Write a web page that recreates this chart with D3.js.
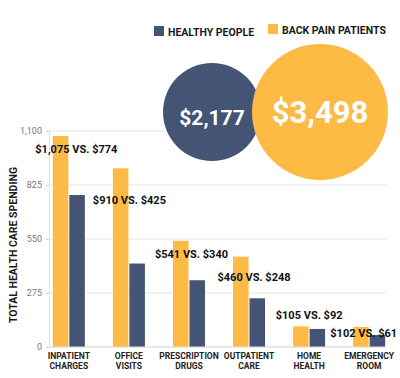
<!DOCTYPE html>
<html><head><meta charset="utf-8">
<script src="https://cdn.jsdelivr.net/npm/d3@7"></script>
<style>body{margin:0;background:#fff;font-family:Roboto,"Noto Sans",sans-serif;}</style>
</head><body><svg id="c" width="400" height="378"></svg>
<script>
const categories = [["INPATIENT","CHARGES"],["OFFICE","VISITS"],["PRESCRIPTION","DRUGS"],["OUTPATIENT","CARE"],["HOME","HEALTH"],["EMERGENCY","ROOM"]];
const backPain = [1075, 910, 541, 460, 105, 102];
const healthy = [774, 425, 340, 248, 92, 61];
const yTicks = [0, 275, 550, 825, 1100];
const totals = [2177, 3498];
const seriesNames = ["HEALTHY PEOPLE", "BACK PAIN PATIENTS"];
// label offsets (layout)
const labelDx = [7.5, 0.5, 2.5, 5, 0, -5.5];
const labelDy = [13, 32, 13, 20, -11, 6];

const NAVY = "#435474", YEL = "#FDBA45";
const svg = d3.select("#c");
const x = d3.scaleBand().domain(d3.range(categories.length)).range([39, 399]).paddingInner(0.467).paddingOuter(0.23);
const y = d3.scaleLinear().domain([0,1100]).range([347,131]);
const sub = d3.scaleBand().domain([0,1]).range([0, x.bandwidth()]).paddingInner(0.06);

// grid
svg.append("g").selectAll("line").data(yTicks).join("line")
  .attr("x1", 49).attr("x2", 386).attr("y1", d=>y(d)).attr("y2", d=>y(d))
  .attr("stroke", "#e3e3e3").attr("stroke-width", 1);
const ax = svg.append("g").attr("transform","translate(49,0)").call(d3.axisLeft(y).tickValues(yTicks).tickSize(3).tickFormat(d3.format(",")));
ax.select(".domain").attr("stroke","#e3e3e3");
ax.selectAll(".tick line").attr("stroke","#cfcfcf");
ax.selectAll("text").attr("fill","#777").attr("font-size","9px").attr("font-family","Roboto").attr("dx","-1");

// y title
svg.append("text").attr("transform","translate(17,245) rotate(-90)").attr("text-anchor","middle")
  .attr("font-size","10.5px").attr("font-weight","bold").attr("fill","#1a1a1a").text("TOTAL HEALTH CARE SPENDING");

// bars
const g = svg.append("g").selectAll("g").data(categories).join("g").attr("transform",(d,i)=>`translate(${x(i)},0)`);
g.append("rect").attr("x", sub(0)).attr("width", sub.bandwidth()).attr("y",(d,i)=>y(backPain[i])).attr("height",(d,i)=>y(0)-y(backPain[i])).attr("fill",YEL);
g.append("rect").attr("x", sub(1)).attr("width", sub.bandwidth()).attr("y",(d,i)=>y(healthy[i])).attr("height",(d,i)=>y(0)-y(healthy[i])).attr("fill",NAVY);
// baseline
svg.append("line").attr("x1",49).attr("x2",386).attr("y1",y(0)).attr("y2",y(0)).attr("stroke","#e0e0e0");

// category labels
g.append("text").attr("x", x.bandwidth()/2).attr("y",359).attr("text-anchor","middle").attr("font-size","8.5px").attr("font-weight","bold").attr("fill","#222").text(d=>d[0]);
g.append("text").attr("x", x.bandwidth()/2).attr("y",369).attr("text-anchor","middle").attr("font-size","8.5px").attr("font-weight","bold").attr("fill","#222").text(d=>d[1]);

// value labels
const fmt = d3.format("$,");
g.append("text").attr("x",(d,i)=>x.bandwidth()/2 + labelDx[i]).attr("y",(d,i)=>y(backPain[i])+labelDy[i]+4)
  .attr("text-anchor","middle").attr("font-size","11px").attr("font-weight","bold").attr("fill","#111")
  .text((d,i)=>`${fmt(backPain[i])} VS. ${fmt(healthy[i])}`);

// circles
const r = d3.scaleLinear().domain(totals).range([49, 68]);
const cx = [212, 320];
const colors = [NAVY, YEL];
const fs = [21, 31];
const cg = svg.append("g").selectAll("g").data(totals).join("g").attr("transform",(d,i)=>`translate(${cx[i]},112)`);
cg.append("circle").attr("r", d=>r(d)).attr("fill",(d,i)=>colors[i]);
cg.append("text").attr("text-anchor","middle").attr("dy","0.36em").attr("y",(d,i)=>i?0:5).attr("font-size",(d,i)=>fs[i]+"px").attr("font-weight","bold").attr("fill","#fff").text(d=>fmt(d));

// legend
const lx = [154, 268];
const lg = svg.append("g").selectAll("g").data(seriesNames).join("g").attr("transform",(d,i)=>`translate(${lx[i]},${i?24:26})`);
lg.append("rect").attr("width",10).attr("height",10).attr("fill",(d,i)=>colors[i]);
lg.append("text").attr("x",14).attr("y",9.5).attr("font-size","10.5px").attr("font-weight","bold").attr("fill","#1a1a1a").text(d=>d);
</script></body></html>
